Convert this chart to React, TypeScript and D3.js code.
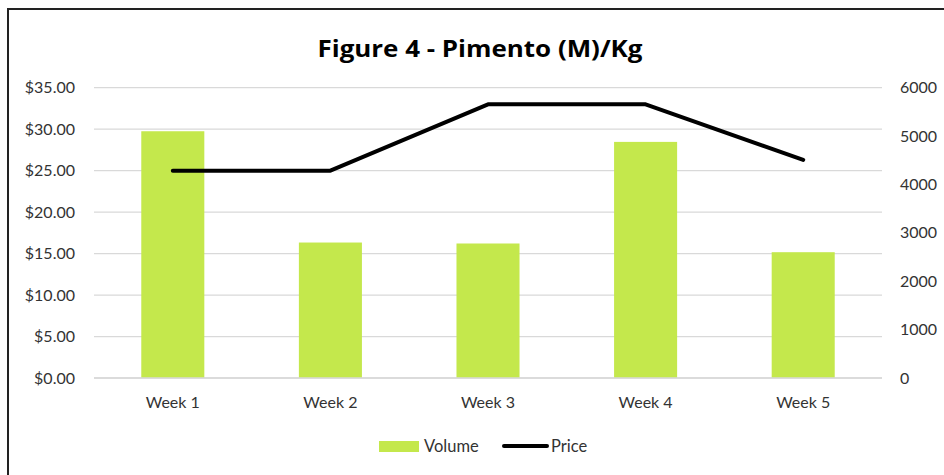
import React from "react";
import * as d3 from "d3";

const weeks = ["Week 1", "Week 2", "Week 3", "Week 4", "Week 5"];
const volume = [5100, 2800, 2780, 4880, 2600];
const price = [25, 25, 33, 33, 26.3];
const priceTicks = [0, 5, 10, 15, 20, 25, 30, 35];
const volumeTicks = [0, 1000, 2000, 3000, 4000, 5000, 6000];

const W = 944;
const H = 475;
const plotLeft = 94;
const plotRight = 882;
const plotTop = 87.7;
const plotBottom = 378;
const FONT = "Lato, 'Open Sans', sans-serif";
const TITLE_FONT = "'Open Sans', Lato, sans-serif";

export default function App() {
  const x = d3.scaleBand<string>().domain(weeks).range([plotLeft, plotRight]).padding(0);
  const yPrice = d3.scaleLinear().domain([0, 35]).range([plotBottom, plotTop]);
  const yVol = d3.scaleLinear().domain([0, 6000]).range([plotBottom, plotTop]);
  const barW = x.bandwidth() * 0.4;
  const cx = (w: string) => (x(w) as number) + x.bandwidth() / 2;
  const line = d3
    .line<number>()
    .x((_, i) => cx(weeks[i]))
    .y((d) => yPrice(d));
  const fmt = (v: number) => "$" + v.toFixed(2);

  return (
    <svg
      width={W}
      height={H}
      style={{ position: "absolute", left: 0, top: 0, background: "#fff" }}
    >
      <rect x={8} y={9} width={1000} height={1000} fill="#fff" stroke="#222" strokeWidth={2} />
      <text
        x={480}
        y={57}
        textAnchor="middle"
        fontFamily={TITLE_FONT}
        fontWeight="bold"
        fontSize={22.5}
        fill="#000"
        textLength={325}
        lengthAdjust="spacingAndGlyphs"
      >
        Figure 4 - Pimento (M)/Kg
      </text>
      {priceTicks.map((t) => (
        <g key={"p" + t}>
          <line
            x1={plotLeft}
            x2={plotRight}
            y1={yPrice(t)}
            y2={yPrice(t)}
            stroke="#D9D9D9"
            strokeWidth={1.3}
          />
          <text
            x={75}
            y={yPrice(t)}
            dy="0.35em"
            textAnchor="end"
            fontFamily={FONT}
            fontSize={16}
            fill="#333"
          >
            {fmt(t)}
          </text>
        </g>
      ))}
      {volumeTicks.map((t) => (
        <text
          key={"v" + t}
          x={900}
          y={yVol(t)}
          dy="0.35em"
          textAnchor="start"
          fontFamily={FONT}
          fontSize={16}
          fill="#333"
        >
          {t}
        </text>
      ))}
      {weeks.map((w, i) => (
        <rect
          key={w}
          x={cx(w) - barW / 2}
          y={yVol(volume[i])}
          width={barW}
          height={plotBottom - yVol(volume[i])}
          fill="#C4E84C"
        />
      ))}
      <line x1={plotLeft} x2={plotRight} y1={plotBottom} y2={plotBottom} stroke="#D9D9D9" strokeWidth={1.3} />
      <path
        d={line(price) || ""}
        fill="none"
        stroke="#000"
        strokeWidth={4}
        strokeLinecap="round"
        strokeLinejoin="round"
      />
      {weeks.map((w) => (
        <text
          key={"l" + w}
          x={cx(w)}
          y={408}
          textAnchor="middle"
          fontFamily={FONT}
          fontSize={16}
          fill="#333"
        >
          {w}
        </text>
      ))}
      <rect x={379} y={441} width={40} height={11} fill="#C4E84C" />
      <text x={424} y={452} fontFamily={FONT} fontSize={16.5} fill="#333">
        Volume
      </text>
      <line x1={504} x2={547} y1={446} y2={446} stroke="#000" strokeWidth={4} strokeLinecap="round" />
      <text x={551} y={452} fontFamily={FONT} fontSize={16.5} fill="#333">
        Price
      </text>
    </svg>
  );
}
